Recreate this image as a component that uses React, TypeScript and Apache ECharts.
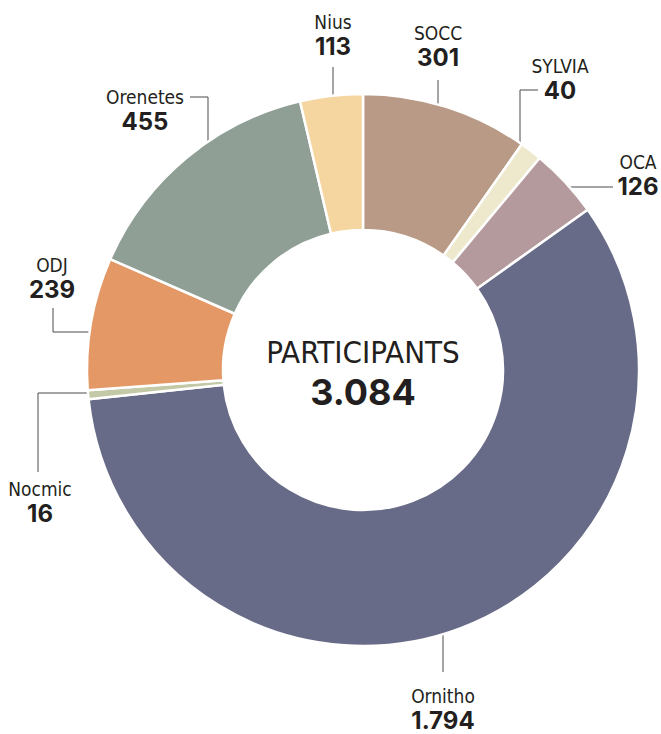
import React, { useEffect, useRef } from "react";
import * as echarts from "echarts";

const names = ["SOCC", "SYLVIA", "OCA", "Ornitho", "Nocmic", "ODJ", "Orenetes", "Nius"];
const values = [301, 40, 126, 1794, 16, 239, 455, 113];
const colors = ["#b89a86", "#eee8cc", "#b59a9d", "#676b87", "#c3c8a6", "#e49865", "#909f95", "#f5d6a1"];
const centerTitle = "PARTICIPANTS";

// label block centres and leader-line points (layout only)
const labelPos: [number, number][] = [
  [438, 45],
  [560, 78],
  [638, 174],
  [443, 708],
  [40, 501],
  [52, 277],
  [145, 109],
  [333, 34],
];
const linePts: [number, number][][] = [
  [[438, 80], [438, 102], [438, 125]],
  [[538, 90], [520, 90], [520, 161]],
  [[613, 187], [584, 187], [554, 187]],
  [[443, 672], [443, 640], [443, 610]],
  [[38, 472], [38, 393], [93, 393]],
  [[53, 308], [53, 332], [109, 332]],
  [[190, 97], [208, 97], [208, 175]],
  [[333, 67], [333, 90], [333, 112]],
];

const fmt = (n: number) => String(n).replace(/\B(?=(\d{3})+(?!\d))/g, ".");

const NARROW = "'Liberation Sans Narrow', 'Arial Narrow', 'DejaVu Sans Condensed', sans-serif";
const BOLD = "Inter, 'Open Sans', sans-serif";

export default function App() {
  const ref = useRef<HTMLDivElement>(null);
  useEffect(() => {
    document.body.style.margin = "0";
    const chart = echarts.init(ref.current!, undefined, { renderer: "svg" });
    const total = values.reduce((a, b) => a + b, 0);
    chart.setOption({
      animation: false,
      backgroundColor: "#ffffff",
      graphic: [
        {
          type: "text",
          x: 363,
          y: 352,
          style: {
            text: centerTitle,
            fontFamily: NARROW,
            fontSize: 31,
            fill: "#231f20",
            align: "center",
            verticalAlign: "middle",
          },
        },
        {
          type: "text",
          x: 363,
          y: 392,
          style: {
            text: fmt(total),
            fontFamily: BOLD,
            fontWeight: 700,
            fontSize: 36,
            fill: "#231f20",
            align: "center",
            verticalAlign: "middle",
          },
        },
      ],
      series: [
        {
          type: "pie",
          center: [363, 370],
          radius: [140, 276],
          startAngle: 90,
          clockwise: true,
          avoidLabelOverlap: false,
          itemStyle: { borderColor: "#ffffff", borderWidth: 2.5 },
          emphasis: { disabled: true },
          label: {
            show: true,
            position: "outside",
            formatter: (p: any) => `{n|${p.name}}\n{v|${fmt(p.value)}}`,
            rich: {
              n: { fontFamily: NARROW, fontSize: 19, color: "#231f20", lineHeight: 25 },
              v: { fontFamily: BOLD, fontWeight: 700, fontSize: 24, color: "#231f20", lineHeight: 25 },
            },
          },
          labelLine: {
            show: true,
            smooth: false,
            lineStyle: { color: "#4a4a4a", width: 1 },
          },
          labelLayout: (p: any) => ({
            x: labelPos[p.dataIndex][0],
            y: labelPos[p.dataIndex][1],
            align: "center",
            verticalAlign: "middle",
            labelLinePoints: linePts[p.dataIndex],
          }),
          data: names.map((n, i) => ({ name: n, value: values[i], itemStyle: { color: colors[i] } })),
        },
      ],
    });
    return () => chart.dispose();
  }, []);
  return <div ref={ref} style={{ width: 661, height: 734 }} />;
}
